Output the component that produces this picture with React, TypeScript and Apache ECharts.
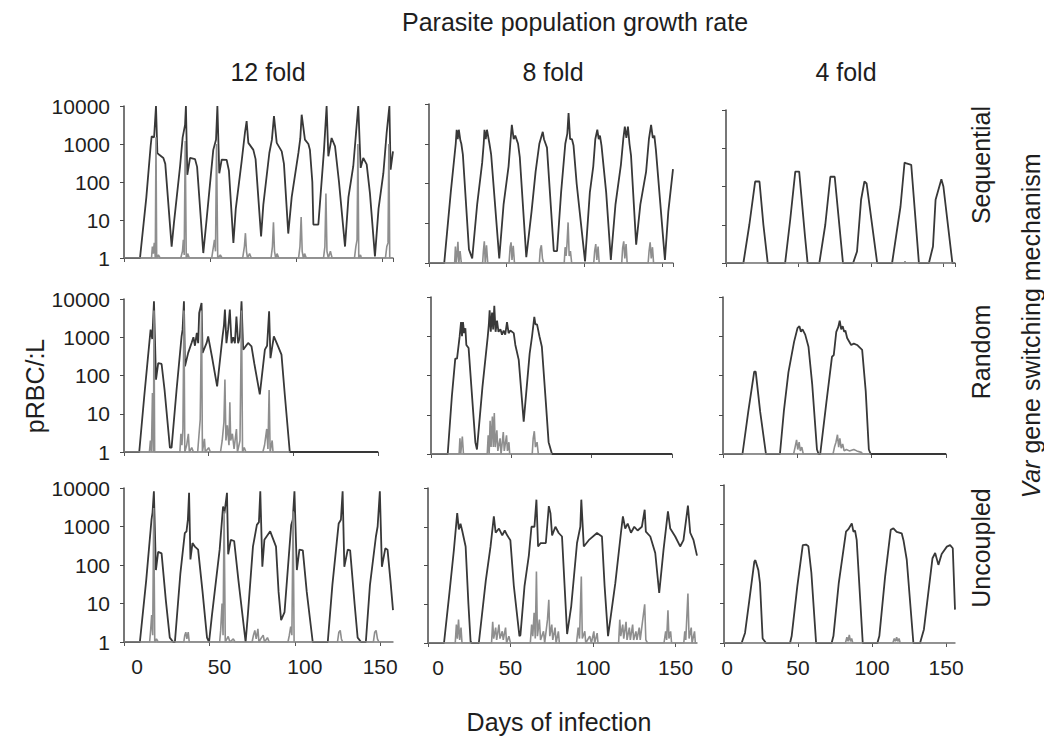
import { useEffect, useRef } from "react";
import * as echarts from "echarts";

const rates = ["12 fold", "8 fold", "4 fold"];
const mechanisms = ["Sequential", "Random", "Uncoupled"];
const xTickStep = 50;
const yMin = 1;
const yMax = 10000;

// Row 1: Sequential
const seq12Line = [[0,1],[9.3,1],[13,40],[15.5,900],[16.1,1600],[17.5,1500],[18.6,10000],[19.4,580],[20.5,520],[22.9,430],[24,300],[27.7,2],
[29,8],[32.6,260],[34.1,1500],[35.5,3200],[36,10000],[36.8,155],[38.4,430],[41.3,400],[42.5,250],[46.1,1.35],
[48,10],[51.9,700],[53.5,1300],[54.3,10000],[55.4,170],[56.8,390],[59.7,380],[61,200],[63.6,2.5],
[65,20],[68.4,350],[70.3,1950],[71.3,4000],[72.3,1070],[75.2,700],[76.5,400],[79.7,3.7],
[81,25],[84.5,580],[86,1300],[87.2,5400],[88.8,1070],[91.7,640],[93,300],[95.5,4.4],
[97.5,40],[101.4,580],[102.5,1400],[103.3,5900],[105.2,1300],[107.2,1000],[108.1,700],[109.5,100],[110.1,7.6],[113,7.6],
[116.3,710],[117.8,10000],[118.8,475],[120.7,1440],[122.7,870],[125,100],[128.5,2],
[130.5,40],[133.3,260],[134.9,1950],[136.2,10000],[137.6,235],[139.1,430],[141.1,290],[143,50],[145.9,1.1],
[148,20],[150.8,170],[152.7,1950],[154.3,10000],[155,210],[156.4,640]];
const seq12Spikes = [[0,1],[16,1],[16.5,2],[17,1.3],[17.6,2.5],[18.2,1],[18.6,1500],[19,1],[20,1.2],[21,1],
[33,1],[34,1.5],[34.5,3],[35,1.2],[35.6,1200],[36.2,1],[37,1.3],[38,1],
[51,1],[52,2],[52.6,3],[53.2,1.5],[53.8,1000],[54.5,1],[56,1.2],[57,1],
[69,1],[70,2],[70.6,4.5],[71.2,1.5],[71.8,1],[73,1.3],[74,1],
[85.5,1],[86.3,2],[86.9,8.7],[87.5,1.5],[88.2,1],[89,1.3],[90,1],
[101.5,1],[102.3,2],[103,12],[103.6,1.5],[104.3,1],[105,1.3],[106,1],
[116,1],[116.8,2],[117.4,50],[118,1.5],[118.8,1],[120,1.5],[121,1],
[134,1],[134.8,2],[135.5,3],[136,1000],[136.5,1],[137.5,1.2],[138,1],
[152,1],[152.8,2],[153.5,2.5],[154,1000],[154.5,1],[156.4,1]];

const seq8Line = [[0,1],[9.8,1],[14,60],[17.2,1000],[17.8,2250],[18.5,1300],[19.2,2250],[20.2,1200],[20.8,1000],[21.8,530],[25.7,2.2],[27.8,1.3],
[31,30],[34.2,330],[35.2,1000],[35.7,2250],[36.5,1300],[37.3,2250],[38.9,1000],[40,530],[45.2,1.3],
[48,30],[51.2,270],[52.3,1000],[53.3,3000],[54.5,1300],[55.5,1600],[57.3,1000],[58.4,470],[62.6,1.4],
[66,20],[68.6,200],[71,1000],[73.2,2000],[74,1300],[75.9,800],[80.3,2],[82.4,2],
[85,60],[87.7,1000],[89,1800],[89.8,5900],[90.8,1300],[92,1300],[93,900],[95,100],[100.4,1.1],
[103.5,60],[105.7,270],[107,1300],[108.3,2250],[109.2,1300],[110,1600],[111,900],[114,60],[117,1.2],
[120,30],[123.5,300],[125,1300],[126,2700],[127,1400],[128,2700],[129,1000],[130,500],[133.3,2.9],
[136,30],[139.7,200],[141.5,1300],[142.9,3000],[144,1400],[145,1600],[146,700],[151.8,1.2],[154,20],[157,230]];
const seq8Spikes = [[0,1],[16.5,1],[17,2.6],[17.5,1],[18,1.5],[18.6,3.4],[19.2,1],[20,2],[20.8,1],
[34.5,1],[35,2],[35.6,3.5],[36.2,1],[37,2.8],[37.8,1],
[51.5,1],[52.2,2.5],[52.8,3.3],[53.4,1.2],[54.2,2.7],[55,1],
[71,1],[71.6,2.2],[72.3,2.8],[73,1.3],[73.8,1],
[87,1],[87.6,2.5],[88.2,1.5],[88.8,3],[89.5,10.5],[90.2,1.5],[91,2],[91.8,1],
[106,1],[106.6,2],[107.3,3],[108,1.2],[108.8,2.6],[109.5,1],
[124,1],[124.6,2.4],[125.3,3.5],[126,1.3],[126.8,3],[127.5,1],
[141,1],[141.6,2],[142.3,3.3],[143,1.3],[143.8,2.5],[144.5,1],[157,1]];

const seq4Line = [[0,1],[12,1],[16.1,10],[20.1,135],[23.1,135],[25.8,10],[28.8,1],
[40.8,1],[44.3,13.5],[47.8,245],[50.5,245],[54.5,5],[56.3,1],
[64.4,1],[68.5,10],[72,180],[75,180],[80.7,1],
[87.7,1],[90.4,2],[93.2,45],[95.5,135],[97,120],[104.3,1],
[114.6,1],[120.4,30],[123.2,425],[124.5,400],[127.8,370],[133.1,1],
[140,1],[142.8,2.7],[144.6,45],[148.6,155],[150,100],[156.2,1],[158,1]];
const seq4Spikes = [[0,1],[123,1],[123.5,1.1],[124,1],[158,1]];

// Row 2: Random
const ran12Line = [[0,1],[9,1],[12,30],[15.7,1580],[16.7,900],[17.7,8700],[18.9,78],[20.2,210],[22.2,200],[24,40],[27.1,1.3],[28.1,1.3],
[31,40],[34,1050],[34.6,1580],[35.4,8700],[36,173],[37.9,390],[39.9,710],[41,1000],[41.9,600],[43,1300],[43.8,700],[44.4,4300],[45.8,7900],[46.4,390],[48.8,710],[49.7,1050],[52,300],[55,52],
[58.2,1050],[59,2000],[59.6,5300],[60.5,700],[61.5,1600],[62.5,5300],[63.5,700],[64.5,1000],[65.5,700],[66.4,3500],[67.4,700],[68.4,1000],[69.4,8700],[70.4,475],[73.3,710],[75.3,580],[77,200],[80.2,32],
[83.2,475],[84.5,600],[85.7,4800],[86.5,285],[88.5,1050],[91,580],[93,350],[95,30],[97.9,1],[150,1]];
const ran12Spikes = [[0,1],[15,1],[15.6,2],[16.2,1],[16.8,35],[17.4,1],[17.7,5000],[18.1,1],
[33,1],[33.6,3],[34.2,1.5],[34.8,4],[35.4,5000],[35.9,1],[37,1.5],[38,3],[38.6,1],[40,1.3],[41,1],
[43.5,1],[44.2,2.5],[45,7],[45.8,5000],[46.3,1],[47.5,2.2],[48,1],[50,1.3],[51,1],
[57,1],[58,2],[59,6],[59.6,78],[60.2,2],[61,5],[62,1.5],[62.5,20],[63,2],[64,3],[65,1.2],[66.4,4],[67,1],[68.5,2],[69.4,5000],[70,1],[71,1.3],[72,1],
[82,1],[83,1.5],[84.3,4],[85,1.2],[85.7,42],[86.3,1],[87.5,2],[88,1],[97.9,1]];

const ran8Line = [[0,1],[10.4,1],[13,30],[15.1,270],[16.2,270],[17.8,960],[18.7,2300],[19.3,1000],[19.9,2300],[20.6,1200],[21.4,1600],[22,600],[23.4,500],[27.6,2],[28.6,1.3],
[32,50],[35.3,960],[36,2000],[36.5,4600],[37.2,1300],[38,4000],[38.7,1500],[39.4,6000],[40.2,1300],[41.1,2500],[42,1300],[43.2,1500],[44.2,1100],[45.2,1400],[46.2,1100],[47.3,2300],[48.3,1200],[49.4,1400],[51.5,1200],[52.5,600],[54.6,250],[57.7,6.7],
[61.4,360],[62.9,1000],[64.3,3100],[65,2000],[66,2000],[67.5,1000],[69,540],[71.5,20],[73.2,2],[75.3,1],[150,1]];
const ran8Spikes = [[0,1],[17.5,1],[18,2.5],[18.5,1],[19.5,2.8],[20.2,1],
[35,1],[35.6,3],[36.2,1],[36.8,7],[37.4,1.5],[38.2,9],[38.8,1.5],[39.4,11],[40,1.5],[41,4],[41.6,1.2],[43,2.5],[43.6,1],[45,3.6],[45.6,1.2],[47,3],[47.6,1.2],[48.5,2],[49,1],
[63,1],[63.6,2.5],[64.3,3.8],[65,1.5],[66,2],[66.8,1],[75.3,1]];

const ran4Line = [[0,1],[13.1,1],[17,12],[21,125],[22,125],[25,12],[28.9,1],
[38.3,1],[41,13],[44,120],[47.8,720],[50.1,1600],[51.4,1800],[52.4,1300],[53.5,1500],[55.3,1100],[57.5,540],[60,60],[63.2,1.3],[64.3,1],
[65.4,1],[69.5,20],[73.3,300],[74.5,330],[76.2,1300],[77.5,1700],[78.5,2500],[79.5,1500],[80.5,1800],[81.5,1300],[82.3,1400],[83.5,900],[86.2,600],[88,650],[90.2,600],[93.6,450],[96,40],[98.1,1.3],[99.3,1],[150,1]];
const ran4Spikes = [[0,1],[47.5,1],[48.5,1.5],[49.5,2.3],[50.3,1.3],[51.2,2],[52,1.2],[53,1.5],[54,1],
[74,1],[75,1.5],[76,2],[77,3.1],[77.8,1.5],[78.6,2.5],[79.5,1.4],[80.5,1.8],[81.5,1.2],[83,1.3],[85,1.2],[88,1.3],[90,1.2],[93,1.1],[94,1],[99.3,1]];

// Row 3: Uncoupled
const unc12Line = [[0,1],[9.3,1],[13,40],[16.1,1500],[16.7,2300],[17.5,8200],[18.7,74],[20,220],[22,200],[24.5,12],[26.8,1.3],[28.8,1],
[29.8,1],[33,60],[35.6,670],[36.6,750],[37.4,1500],[38.1,7500],[38.9,140],[40.1,370],[41.5,300],[43.4,250],[46,20],[48.6,1.3],[49.8,1],
[51.5,5],[56,250],[58,3300],[58.8,2200],[60.3,7500],[61,190],[62.5,450],[64.5,420],[67,40],[71.2,1],
[72.5,5],[75.5,300],[77.8,1100],[79,1300],[79.8,8200],[81,90],[82.2,450],[85.6,750],[87.5,450],[89,300],[90.5,20],[92,3.7],[94,6],[97.9,1100],[98.8,1500],[99.8,8200],[101.2,74],[102.7,250],[104.7,240],[107,20],[110.5,1],
[119.3,1],[122,30],[125.7,1200],[127,1500],[128,8200],[129,90],[131,250],[132.4,240],[135,10],[136.8,1.3],[138.8,1],
[141.6,1],[144,30],[147.5,550],[148.5,1000],[149.8,8200],[151,90],[153,270],[154.3,250],[156,40],[157.5,6.7]];
const unc12Spikes = [[0,1],[15,1],[15.6,2],[16.2,5],[16.8,1.5],[17.4,3000],[18,1],[19,1.2],[20,1],
[35,1],[35.6,1.5],[36.2,1.8],[36.8,1.2],[37.6,1.8],[38.2,1],
[56,1],[56.6,2],[57.4,10],[58,1.5],[58.6,2500],[59.3,1],[61,1.4],[62,1],[64,1.2],[65,1],
[75,1],[75.8,1.5],[76.6,2],[77.4,1.2],[78.4,2.2],[79,1],[80.5,1.3],[81.5,1.5],[82.3,1],[84,1.3],[85,1],
[96,1],[96.8,1.5],[97.6,2.5],[98.3,1.5],[99,2500],[99.6,1],
[125,1],[125.8,1.8],[126.6,2],[127.3,1.2],[128,1],
[146,1],[146.8,1.8],[147.6,2],[148.4,1.2],[149.2,1],[157.5,1]];

const unc8Line = [[0,1],[9.7,1],[13,20],[15.7,255],[17.7,2250],[18.7,850],[19.7,1200],[20.7,800],[22.8,310],[24.5,10],[25.8,1.1],[26.5,1],
[30.8,1],[35,40],[37.9,310],[39.9,1850],[41,700],[43,900],[45,600],[46.5,800],[48,600],[49.9,450],[52,30],[55.4,1.5],[56,1.6],
[58.5,30],[61.1,180],[62.7,1000],[64.5,1000],[65.7,5000],[66.7,310],[68.3,380],[71.4,380],[73.2,3400],[74.2,2250],[75.2,600],[77.2,1000],[79.2,690],[81.2,560],[84.3,1.7],
[86.8,9],[90.3,380],[92.3,1000],[92.9,5000],[94.4,310],[97.4,450],[102.4,690],[105.4,560],[107,30],[109.1,1.5],
[113.5,35],[116.9,690],[118.1,1850],[119.5,900],[121,1200],[123,700],[125,1000],[127,800],[129.6,1000],[131.3,2750],[132,750],[134.7,560],[137.7,210],[140.1,19.5],[142.7,250],[145.4,2500],[146.8,900],[149.8,560],[152.8,310],[154.8,450],[157.5,3500],[158.9,700],[160.9,450],[163,180]];
const unc8Spikes = [[0,1],[16.5,1],[17.2,3],[17.8,1.3],[18.5,4],[19.2,1.2],[20,2.5],[20.6,1],
[38.5,1],[39.2,3.5],[39.8,1.3],[41,2.5],[41.6,1.2],[43,3],[43.6,1.3],[45,2],[45.6,1.2],[47,2.5],[47.6,1],[49,1.5],[50,1],
[62,1],[62.8,3],[63.5,1.5],[64.3,6],[65,1.3],[65.7,70],[66.3,1.5],[67.5,4],[68.2,1.2],[70,2],[70.7,1],[72.4,4],[73.2,13],[73.8,1.5],[75,3],[75.6,1.2],[77,2.5],[77.6,1],[79,2],[79.6,1],
[90,1],[91,2.5],[91.8,1.3],[92.9,52],[93.5,1.3],[95,2],[95.6,1],[98,1.5],[99,1],[100.5,2],[101,1],[102.5,1.8],[103,1],
[115.5,1],[116.2,4],[116.8,1.5],[118,3],[118.6,1.3],[120,3.5],[120.6,1.2],[122,2.5],[122.6,1.2],[124,3],[124.6,1.2],[126,2],[126.6,1.2],[128,2.5],[128.6,1.2],[131.3,10],[132,1.2],[133,1],
[143,1],[144,2],[144.6,1.2],[145.4,7],[146,1.3],[147,2],[147.6,1],
[155,1],[155.6,2],[156.2,1.2],[157.5,19],[158.2,1.3],[159.5,2.5],[160,1],[161.5,2],[162,1],[163,1]];

const unc4Line = [[0,1],[11.9,1],[14.2,1.8],[17.1,12],[20.5,116],[21.2,125],[23.2,70],[24.3,33],[26.1,1.3],[28.4,1],
[44.6,1],[45.7,1.5],[49.5,27],[53.2,300],[55.4,310],[57,280],[59,60],[62.2,1],
[72.7,1],[73.9,1.5],[77.5,33],[82.4,660],[84,760],[86.3,1070],[87.4,660],[88.5,700],[89.6,410],[93.7,1],
[103.6,1],[104.9,1.5],[108.8,48],[112.6,730],[114.4,800],[116.6,650],[120,600],[121.2,400],[123.4,130],[127.9,1],
[132.4,1],[135,2.2],[140.8,140],[142.6,190],[144.8,95],[147,180],[150.5,275],[152.7,300],[154.5,250],[156,7]];
const unc4Spikes = [[0,1],[82,1],[83,1.4],[83.8,1.1],[84.6,1.6],[85.4,1.1],[86.2,1.3],[87,1],
[114,1],[115,1.3],[115.8,1.1],[116.6,1.4],[117.4,1.1],[118.2,1.3],[119,1],[156,1]];

const panels = [
  { line: seq12Line, spikes: seq12Spikes, xMax: 156.4 },
  { line: seq8Line, spikes: seq8Spikes, xMax: 157 },
  { line: seq4Line, spikes: seq4Spikes, xMax: 158 },
  { line: ran12Line, spikes: ran12Spikes, xMax: 150 },
  { line: ran8Line, spikes: ran8Spikes, xMax: 150 },
  { line: ran4Line, spikes: ran4Spikes, xMax: 150 },
  { line: unc12Line, spikes: unc12Spikes, xMax: 157.5 },
  { line: unc8Line, spikes: unc8Spikes, xMax: 163 },
  { line: unc4Line, spikes: unc4Spikes, xMax: 156 },
];

// layout (pixels)
const layout = [
  { left: 124, top: 106, width: 269, height: 152 },
  { left: 429, top: 104, width: 244, height: 159 },
  { left: 726, top: 110, width: 229, height: 153 },
  { left: 124, top: 299, width: 254, height: 153 },
  { left: 431, top: 297, width: 241, height: 157 },
  { left: 723, top: 297, width: 223, height: 157 },
  { left: 124, top: 488, width: 269, height: 154 },
  { left: 428, top: 488, width: 269, height: 155 },
  { left: 724, top: 485, width: 231, height: 158 },
];
const rateLabelPos = [268, 553, 846];
const mechLabelPos = [165, 352, 548];
// horizontal nudge (px) of the bottom-row tick labels, per column
const zeroLabelShift = [26, 20, 6];
const midLabelShift = [20, 0, 0];

const FONT = "'Liberation Sans', Arial, Helvetica, sans-serif";
const TEXT = "#1e1e1e";
const DARK = "#383838";
const LIGHT = "#8e8e8e";

export default function App() {
  const ref = useRef<HTMLDivElement>(null);
  useEffect(() => {
    if (!ref.current) return;
    const chart = echarts.init(ref.current, undefined, { renderer: "svg" });
    const grid: any[] = [];
    const xAxis: any[] = [];
    const yAxis: any[] = [];
    const series: any[] = [];
    panels.forEach((p, i) => {
      const r = Math.floor(i / 3);
      const c = i % 3;
      const l = layout[i];
      grid.push({ left: l.left, top: l.top, width: l.width, height: l.height, outerBoundsMode: "none" });
      xAxis.push({
        type: "value", gridIndex: i, min: 0, max: p.xMax, interval: xTickStep,
        axisLine: { onZero: false, lineStyle: { color: "#7a7a7a", width: 1.5 } },
        axisTick: { show: true, length: 4, lineStyle: { color: "#555" } },
        axisLabel: {
          show: r === 2, showMaxLabel: false, fontSize: 21, color: TEXT, fontFamily: FONT, margin: 14,
          formatter: (v: number) => v === 0 ? "{z|0}" : (v === 50 || v === 100) ? `{m|${v}}` : String(v),
          rich: {
            z: { fontSize: 21, fontFamily: FONT, color: TEXT, padding: [0, 0, 0, zeroLabelShift[c]] },
            m: { fontSize: 21, fontFamily: FONT, color: TEXT, padding: [0, 0, 0, midLabelShift[c]] },
          },
        },
        splitLine: { show: false },
      });
      yAxis.push({
        type: "log", logBase: 10, gridIndex: i, min: yMin, max: yMax,
        axisLine: { show: true, lineStyle: { color: "#4a4a4a", width: 1.5 } },
        axisTick: { show: true, length: 4, lineStyle: { color: "#4a4a4a" } },
        axisLabel: { show: c === 0, fontSize: 21, color: TEXT, fontFamily: FONT, margin: 14,
          formatter: (v: number) => String(Math.round(v)) },
        splitLine: { show: false },
      });
      series.push({
        type: "line", xAxisIndex: i, yAxisIndex: i, data: p.line, showSymbol: false, symbol: "none",
        lineStyle: { color: DARK, width: 1.8 }, z: 2,
      });
      series.push({
        type: "line", xAxisIndex: i, yAxisIndex: i, data: p.spikes, showSymbol: false, symbol: "none",
        lineStyle: { color: LIGHT, width: 1.6 }, z: 3,
      });
    });
    const graphic: any[] = [
      { type: "text", x: 575, y: 22, style: { text: "Parasite population growth rate", fontSize: 25, fontFamily: FONT, fill: TEXT, align: "center", verticalAlign: "middle" } },
      ...rates.map((t, k) => ({ type: "text", x: rateLabelPos[k], y: 72, style: { text: t, fontSize: 25, fontFamily: FONT, fill: TEXT, align: "center", verticalAlign: "middle" } })),
      ...mechanisms.map((t, k) => ({ type: "text", x: 981, y: mechLabelPos[k], rotation: Math.PI / 2, style: { text: t, fontSize: 25, fontFamily: FONT, fill: TEXT, align: "center", verticalAlign: "middle" } })),
      { type: "text", x: 1031, y: 326, rotation: Math.PI / 2, style: { text: "{it|Var} gene switching mechanism", fontSize: 25, fontFamily: FONT, fill: TEXT, align: "center", verticalAlign: "middle",
        rich: { it: { fontStyle: "italic", fontSize: 25, fontFamily: FONT, fill: TEXT } } } },
      { type: "text", x: 35, y: 386, rotation: Math.PI / 2, style: { text: "pRBC/:L", fontSize: 25, fontFamily: FONT, fill: TEXT, align: "center", verticalAlign: "middle" } },
      { type: "text", x: 559, y: 722, style: { text: "Days of infection", fontSize: 25, fontFamily: FONT, fill: TEXT, align: "center", verticalAlign: "middle" } },
    ];
    chart.setOption({ animation: false, backgroundColor: "#fff", grid, xAxis, yAxis, series, graphic });
    return () => chart.dispose();
  }, []);
  return <div ref={ref} style={{ position: "absolute", left: 0, top: 0, width: 1044, height: 738 }} />;
}
